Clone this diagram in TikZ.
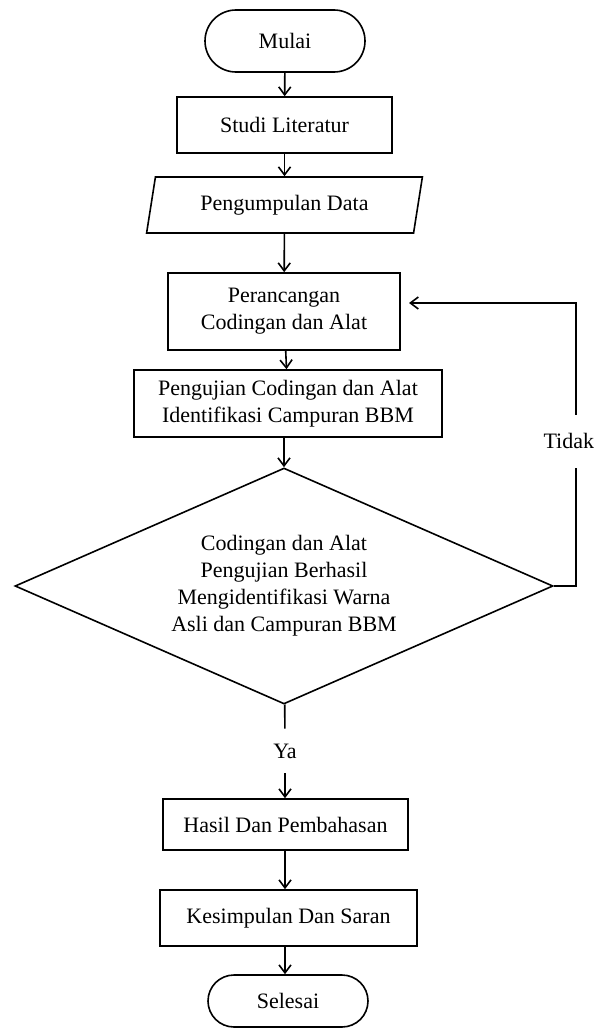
\documentclass[tikz,border=0pt]{standalone}
\usepackage{fontspec}
\setmainfont{Liberation Serif}
\usetikzlibrary{shapes.geometric,shapes.misc,arrows.meta}

\begin{document}
\begin{tikzpicture}[
  x = 0.5pt, y = -0.5pt,
  every node/.style = {font = \fontsize{11}{13.5}\selectfont, align = center},
  terminal/.style = {draw, rounded rectangle, line width = 0.8pt, inner sep = 0pt},
  proses/.style = {draw, rectangle, line width = 0.8pt, inner sep = 0pt},
  masukan/.style = {draw, trapezium, trapezium left angle = 74, trapezium right angle = 106,
                    trapezium stretches = true, line width = 0.8pt, inner sep = 0pt},
  keputusan/.style = {draw, diamond, aspect = 2.28, line width = 0.8pt, inner sep = 0pt},
  panah/.style = {line width = 0.8pt, -{Straight Barb[length = 4pt, width = 6pt]}},
  ]
  \useasboundingbox (0,0) rectangle (594,1028);

  \node[terminal, minimum width = 80pt, minimum height = 31pt] (mulai) at (285,41) {Mulai};
  \node[proses, minimum width = 107.5pt, minimum height = 28pt] (studi) at (284.5,125) {Studi Literatur};
  \node[masukan, minimum width = 138.5pt, minimum height = 28pt] (data) at (284.5,205) {Pengumpulan Data};
  \node[proses, minimum width = 116pt, minimum height = 38.5pt] (rancang) at (284,311.5)
    {Perancangan\\Codingan dan Alat};
  \node[proses, minimum width = 154pt, minimum height = 33.5pt] (uji) at (288,403.5)
    {Pengujian Codingan dan Alat\\Identifikasi Campuran BBM};
  \node[keputusan, minimum width = 269pt, minimum height = 118pt] (cek) at (284,586)
    {Codingan dan Alat\\Pengujian Berhasil\\Mengidentifikasi Warna\\Asli dan Campuran BBM};
  \node[minimum height = 22pt, inner sep = 0pt] (ya) at (285,751) {Ya};
  \node[proses, minimum width = 122.5pt, minimum height = 25.5pt] (hasil) at (285.5,824.5)
    {Hasil Dan Pembahasan};
  \node[proses, minimum width = 128.5pt, minimum height = 28pt] (simpul) at (288.5,918)
    {Kesimpulan Dan Saran};
  \node[terminal, minimum width = 80pt, minimum height = 26pt] (selesai) at (288,1001) {Selesai};
  \coordinate (balik) at (409,303);

  \draw[panah] (mulai) -- (studi);
  \draw[panah] (studi) -- (data);
  \draw[panah] (data) -- (rancang);
  \draw[panah] (rancang) -- (uji);
  \draw[panah] (uji.south -| cek.north) -- (cek);
  \draw[line width = 0.8pt] (cek) -- (ya);
  \draw[panah] (ya) -- (hasil.north -| ya);
  \draw[panah] (hasil.south -| ya) -- (simpul.north -| ya);
  \draw[panah] (simpul.south -| ya) -- (selesai.north -| ya);
  \draw[panah] (cek.east) -- ++(22,0) |- node[pos = 0.256, fill = white, minimum height = 26.5pt,
    inner xsep = 0.5pt, xshift = -3.5pt] {Tidak} (balik);
\end{tikzpicture}
\end{document}
